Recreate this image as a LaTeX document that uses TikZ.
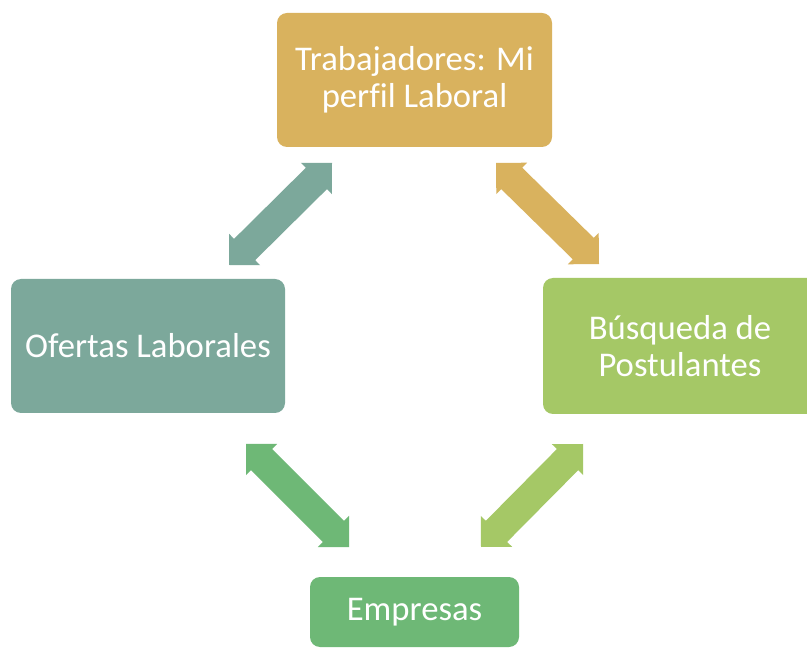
\documentclass[tikz,border=0pt]{standalone}
\usepackage{fontspec}
\setmainfont{Carlito}[Ligatures=NoCommon]
\usetikzlibrary{calc}
\definecolor{cgold}{RGB}{217,178,94}
\definecolor{cteal}{RGB}{124,168,155}
\definecolor{clime}{RGB}{165,200,102}
\definecolor{cgreen}{RGB}{110,184,118}
\newcommand\blockarr[3]{%
  \coordinate (#1h) at ($(#1)!16.5pt!(#2)$);
  \coordinate (#2h) at ($(#2)!16.5pt!(#1)$);
  \fill[#3] (#1)
    -- ($(#1h)!16.5pt!90:(#2)$) -- ($(#1h)!11.25pt!90:(#2)$)
    -- ($(#2h)!11.25pt!-90:(#1)$) -- ($(#2h)!16.5pt!-90:(#1)$)
    -- (#2)
    -- ($(#2h)!16.5pt!90:(#1)$) -- ($(#2h)!11.25pt!90:(#1)$)
    -- ($(#1h)!11.25pt!-90:(#2)$) -- ($(#1h)!16.5pt!-90:(#2)$)
    -- cycle;}
\tikzset{
  boxnode/.style={rounded corners=7.5pt, text=white, align=center,
    font=\fontsize{26}{28}\selectfont, inner sep=0pt}
}
\begin{document}
\begin{tikzpicture}[x=0.75pt,y=-0.75pt]
\useasboundingbox (0,0) rectangle (807,648);
\clip (0,0) rectangle (807,648);
\fill[white] (0,0) rectangle (807,648);
\node[boxnode, fill=cgold, minimum width=206.25pt, minimum height=100.5pt] (top) at (414.5,80) {Trabajadores: Mi\\perfil Laboral};
\node[boxnode, fill=cteal, minimum width=205.5pt, minimum height=100.5pt] (left) at (148,346) {Ofertas Laborales};
\node[boxnode, fill=clime, minimum width=205.5pt, minimum height=102pt] (right) at (680,346) {Búsqueda de\\Postulantes};
\node[boxnode, fill=cgreen, minimum width=156.75pt, minimum height=52.5pt] (bottom) at (414.5,612) {Empresas};
\coordinate (tla) at (229,265); \coordinate (tlb) at (332,163);
\coordinate (tra) at (496,163); \coordinate (trb) at (599,264);
\coordinate (bla) at (246,444); \coordinate (blb) at (349,547);
\coordinate (bra) at (583,444); \coordinate (brb) at (481,547);
\blockarr{tla}{tlb}{cteal}
\blockarr{tra}{trb}{cgold}
\blockarr{bla}{blb}{cgreen}
\blockarr{bra}{brb}{clime}
\end{tikzpicture}
\end{document}
